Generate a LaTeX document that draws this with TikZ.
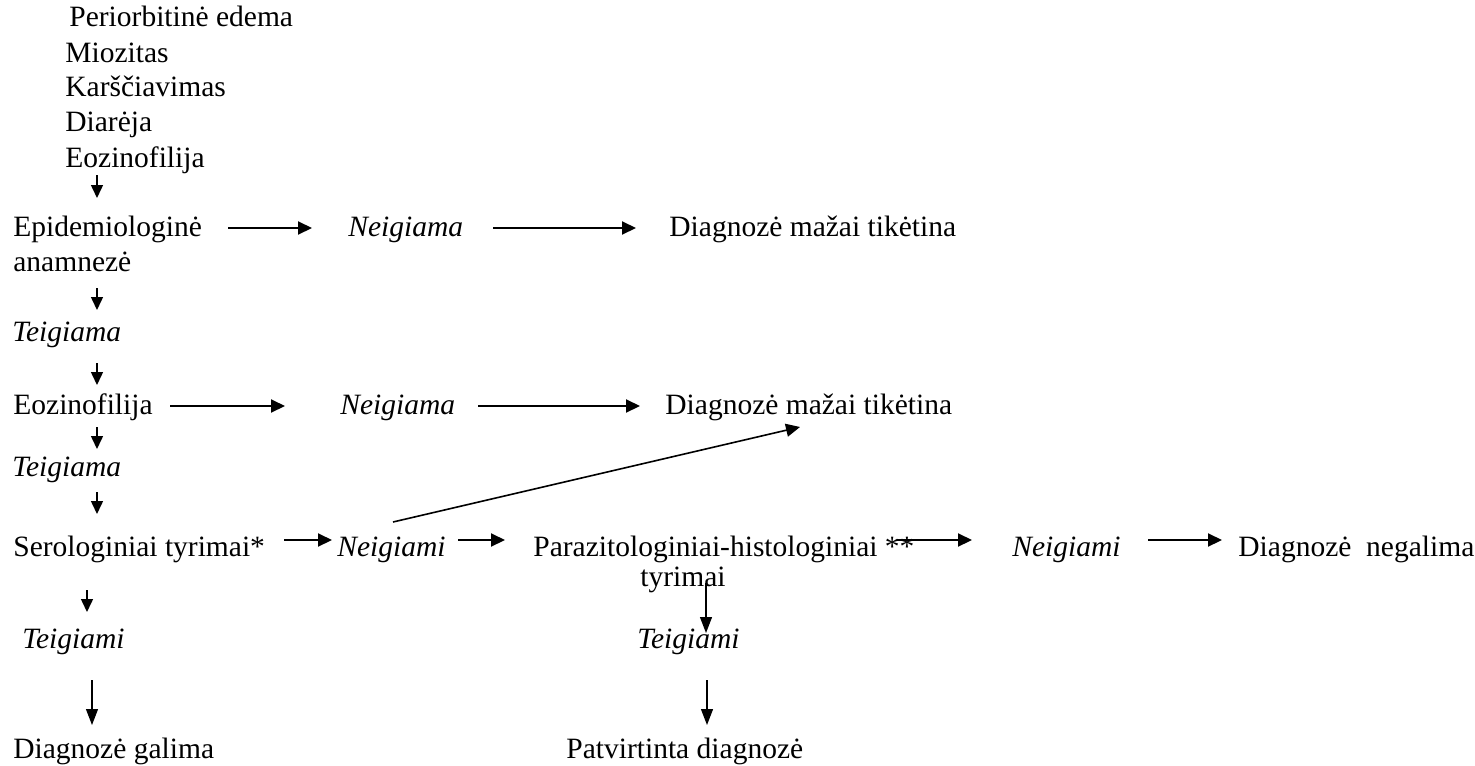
\documentclass[tikz,border=0pt]{standalone}
\usepackage{fontspec}
\setmainfont{Liberation Serif}
\usetikzlibrary{arrows.meta}

\tikzset{
 lbl/.style={anchor=base west, inner sep=0pt, font=\fontsize{14.75pt}{17.5pt}\selectfont},
 neg/.style={lbl, font=\fontsize{14.75pt}{17.5pt}\selectfont\itshape},
 harr/.style={-{Triangle[length=7pt,width=6.5pt]}, line width=1pt},
 varr/.style={-{Triangle[length=6.5pt,width=6pt]}, line width=0.75pt},
 larr/.style={-{Triangle[length=8pt,width=6pt]}, line width=0.6pt}
}

\begin{document}
\begin{tikzpicture}[x=0.5pt,y=-0.5pt]
 \useasboundingbox (0,0) rectangle (1475,765);

 % signs
 \node[lbl] (s1) at (69,27) {Periorbitinė edema};
 \node[lbl] (s2) at (65,62) {Miozitas};
 \node[lbl] (s3) at (65,97) {Karščiavimas};
 \node[lbl] (s4) at (65,132) {Diarėja};
 \node[lbl] (s5) at (65,167) {Eozinofilija};

 % left column
 \node[lbl] (epi) at (13,236) {Epidemiologinė};
 \node[lbl] (anam) at (13,271) {anamnezė};
 \node[neg] (tg1) at (12,341) {Teigiama};
 \node[lbl] (eoz) at (13,414) {Eozinofilija};
 \node[neg] (tg2) at (12,476) {Teigiama};
 \node[lbl] (ser) at (13,556) {Serologiniai tyrimai*};
 \node[neg] (tg3) at (22,648) {Teigiami};
 \node[lbl] (dg) at (13,758) {Diagnozė galima};

 % right side
 \node[neg] (neg1) at (348,236) {Neigiama};
 \node[lbl] (dmt1) at (669,236) {Diagnozė mažai tikėtina};
 \node[neg] (neg2) at (340,414) {Neigiama};
 \node[lbl] (dmt2) at (665,414) {Diagnozė mažai tikėtina};
 \node[neg] (neg3) at (337,556) {Neigiami};
 \node[lbl] (par) at (533,556) {Parazitologiniai-histologiniai **};
 \node[lbl] (tyr) at (640,586) {tyrimai};
 \node[neg] (neg4) at (1012,556) {Neigiami};
 \node[lbl] (dng) at (1238,556) {Diagnozė\ \ negalima};
 \node[neg] (tg4) at (637,648) {Teigiami};
 \node[lbl] (pd) at (566,758) {Patvirtinta diagnozė};

 % arrow ends
 \coordinate (a1s) at (97,175);  \coordinate (a1e) at (97,198);
 \coordinate (a2s) at (97,288);  \coordinate (a2e) at (97,310);
 \coordinate (a3s) at (97,363);  \coordinate (a3e) at (97,385);
 \coordinate (a4s) at (97,427);  \coordinate (a4e) at (97,449);
 \coordinate (a5s) at (97,492);  \coordinate (a5e) at (97,514);
 \coordinate (a6s) at (87,590);  \coordinate (a6e) at (87,612);
 \coordinate (a7s) at (92,680);  \coordinate (a7e) at (92,725);
 \coordinate (a8s) at (706,583); \coordinate (a8e) at (706,633);
 \coordinate (a9s) at (707,680); \coordinate (a9e) at (707,725);

 \coordinate (h1s) at (228,228);  \coordinate (h1e) at (312,228);
 \coordinate (h2s) at (493,228);  \coordinate (h2e) at (636,228);
 \coordinate (h3s) at (170,406);  \coordinate (h3e) at (285,406);
 \coordinate (h4s) at (478,406);  \coordinate (h4e) at (640,406);
 \coordinate (h5s) at (284,540);  \coordinate (h5e) at (332,540);
 \coordinate (h6s) at (458,540);  \coordinate (h6e) at (505,540);
 \coordinate (h7s) at (897,540);  \coordinate (h7e) at (972,540);
 \coordinate (h8s) at (1148,540); \coordinate (h8e) at (1222,540);
 \coordinate (ds) at (393,522);   \coordinate (de) at (800,427);

 % connectors
 \foreach \i in {1,...,6} {
  \draw[varr] (a\i s) -- (a\i e);
 };
 \foreach \i in {7,8,9} {
  \draw[larr] (a\i s) -- (a\i e);
 };
 \foreach \i in {1,...,8} {
  \draw[harr] (h\i s) -- (h\i e);
 };
 \draw[harr, line width=0.8pt] (ds) -- (de);
\end{tikzpicture}
\end{document}
